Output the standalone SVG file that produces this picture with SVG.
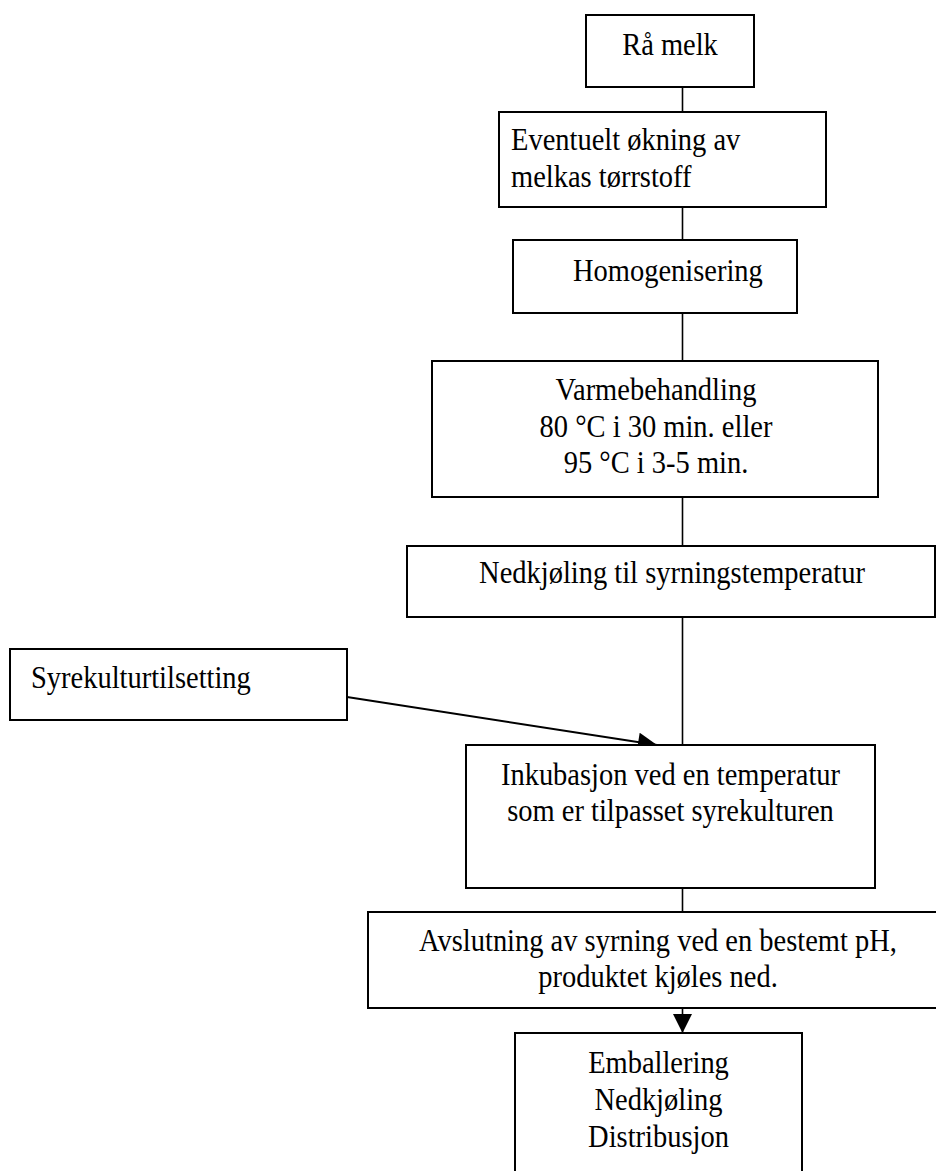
<svg xmlns="http://www.w3.org/2000/svg" width="936" height="1171" viewBox="0 0 936 1171">
  <style>
    .box { fill: #ffffff; stroke: #000000; stroke-width: 2; }
    .lbl { font-family: "Liberation Serif", "Times New Roman", serif; font-size: 32px; fill: #000000; }
    .mid { text-anchor: middle; }
    .link { stroke: #000000; stroke-width: 1.6; fill: none; }
    .feed { stroke: #000000; stroke-width: 2; fill: none; }
  </style>
  <defs>
    <marker id="head" viewBox="0 0 20 20" refX="20" refY="10" markerWidth="20" markerHeight="19" markerUnits="userSpaceOnUse" orient="auto">
      <path d="M0,0 L20,10 L0,20 z" fill="#000000"/>
    </marker>
  </defs>

  <rect width="936" height="1171" fill="#ffffff"/>

  <!-- connectors -->
  <g id="connectors">
    <line class="link" x1="682.5" y1="87" x2="682.5" y2="112"/>
    <line class="link" x1="682.5" y1="207" x2="682.5" y2="240"/>
    <line class="link" x1="682.5" y1="313" x2="682.5" y2="361"/>
    <line class="link" x1="682.5" y1="497" x2="682.5" y2="546"/>
    <line class="link" x1="682.5" y1="617" x2="682.5" y2="745"/>
    <line class="link" x1="682.5" y1="888" x2="682.5" y2="912"/>
    <line class="feed" x1="347" y1="697" x2="657" y2="745" marker-end="url(#head)"/>
    <line class="link" x1="682.5" y1="1008" x2="682.5" y2="1033" marker-end="url(#head)"/>
  </g>

  <!-- labels use a horizontally condensed serif: each text is placed by its own translate, then scaled -->
  <g id="raa-melk">
    <rect class="box" x="586" y="15" width="168" height="72"/>
    <text class="lbl mid" transform="translate(670,0) scale(0.89,1)" x="0" y="55">Rå melk</text>
  </g>

  <g id="torrstoff">
    <rect class="box" x="499" y="112" width="327" height="95"/>
    <text class="lbl" transform="translate(511,0) scale(0.89,1)" x="0" y="150">Eventuelt økning av</text>
    <text class="lbl" transform="translate(511,0) scale(0.89,1)" x="0" y="187">melkas tørrstoff</text>
  </g>

  <g id="homogenisering">
    <rect class="box" x="513" y="240" width="284" height="73"/>
    <text class="lbl" transform="translate(573,0) scale(0.89,1)" x="0" y="281">Homogenisering</text>
  </g>

  <g id="varmebehandling">
    <rect class="box" x="432" y="361" width="446" height="136"/>
    <text class="lbl mid" transform="translate(656,0) scale(0.89,1)" x="0" y="400">Varmebehandling</text>
    <text class="lbl mid" transform="translate(656,0) scale(0.89,1)" x="0" y="437">80 °C i 30 min. eller</text>
    <text class="lbl mid" transform="translate(656,0) scale(0.89,1)" x="0" y="473">95 °C i 3-5 min.</text>
  </g>

  <g id="nedkjoling">
    <rect class="box" x="407" y="546" width="528" height="71"/>
    <text class="lbl mid" transform="translate(672,0) scale(0.89,1)" x="0" y="583">Nedkjøling til syrningstemperatur</text>
  </g>

  <g id="syrekultur">
    <rect class="box" x="10" y="649" width="337" height="71"/>
    <text class="lbl" transform="translate(31,0) scale(0.89,1)" x="0" y="688">Syrekulturtilsetting</text>
  </g>

  <g id="inkubasjon">
    <rect class="box" x="466" y="745" width="409" height="143"/>
    <text class="lbl mid" transform="translate(670.5,0) scale(0.89,1)" x="0" y="785">Inkubasjon ved en temperatur</text>
    <text class="lbl mid" transform="translate(670.5,0) scale(0.89,1)" x="0" y="821">som er tilpasset syrekulturen</text>
  </g>

  <g id="avslutning">
    <rect class="box" x="368" y="912" width="590" height="96"/>
    <text class="lbl mid" transform="translate(658,0) scale(0.89,1)" x="0" y="951">Avslutning av syrning ved en bestemt pH,</text>
    <text class="lbl mid" transform="translate(658,0) scale(0.89,1)" x="0" y="987">produktet kjøles ned.</text>
  </g>

  <g id="emballering">
    <rect class="box" x="515" y="1033" width="287" height="160"/>
    <text class="lbl mid" transform="translate(658.5,0) scale(0.89,1)" x="0" y="1073">Emballering</text>
    <text class="lbl mid" transform="translate(658.5,0) scale(0.89,1)" x="0" y="1110">Nedkjøling</text>
    <text class="lbl mid" transform="translate(658.5,0) scale(0.89,1)" x="0" y="1147">Distribusjon</text>
  </g>
</svg>
